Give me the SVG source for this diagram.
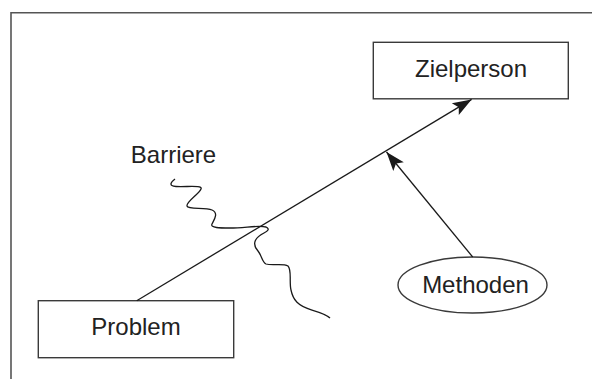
<svg xmlns="http://www.w3.org/2000/svg" width="592" height="379" viewBox="0 0 592 379">
<style>
.box{fill:#fff;stroke:#3a3a3a;stroke-width:1.4}
.lbl{font-family:"Liberation Sans",Arial,sans-serif;font-size:24px;fill:#222;text-anchor:middle}
.con{fill:none;stroke:#1a1a1a;stroke-width:1.3}
</style>
<defs>
<marker id="ah" markerUnits="userSpaceOnUse" markerWidth="24" markerHeight="16" refX="20" refY="8" orient="auto" viewBox="0 0 24 16">
<path d="M20,8 L1,1.2 L5,8 L1,14.8 Z" fill="#1a1a1a"/>
</marker>
</defs>
<rect width="592" height="379" fill="#fff"/>
<path d="M11,379 V12.7 H592" fill="none" stroke="#555" stroke-width="1.6"/>
<g id="zielperson">
<rect class="box" x="373.3" y="42.3" width="195" height="56.5"/>
<text class="lbl" x="471" y="77">Zielperson</text>
</g>
<g id="problem">
<rect class="box" x="38.3" y="300.7" width="195.4" height="57"/>
<text class="lbl" x="136" y="335">Problem</text>
</g>
<g id="methoden">
<ellipse class="box" cx="472.5" cy="285" rx="74.5" ry="28"/>
<text class="lbl" x="475.5" y="293.3">Methoden</text>
</g>
<g id="barriere">
<text class="lbl" x="173.5" y="163">Barriere</text>
<path class="con" d="M175,179 C171,182 168,186 176,186.5 C188,187 203,185 201,189 C199,194 186,202 187,206 C188,210 205,207 212,210 C219,213 214,220 212,224 C210,228 220,228 230,228 C245,228 258,225 266,227 C270,229 268,231 264,233 C256,237 251,243 258,251 C262,256 262,262 266,264 C272,266 283,263 288,266 C292,270 289,282 291,290 C293,300 298,306 312,310 C322,313 327,315 330,318"/>
</g>
<g id="connectors">
<line class="con" x1="136.7" y1="300.7" x2="471.6" y2="99.4" marker-end="url(#ah)"/>
<line class="con" x1="472.7" y1="257" x2="386.5" y2="152" marker-end="url(#ah)"/>
</g>
</svg>
